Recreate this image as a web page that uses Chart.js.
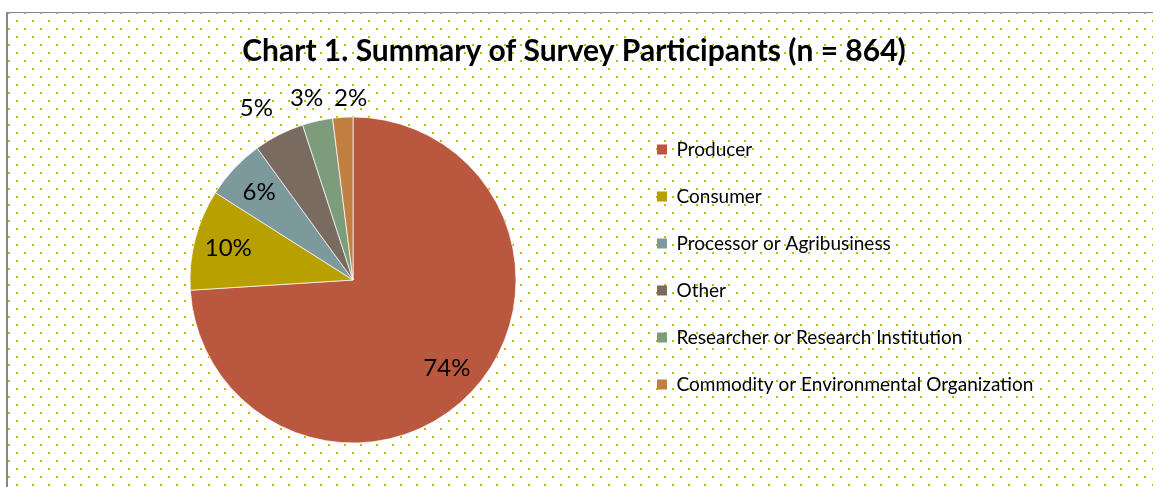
<!DOCTYPE html>
<html>
<head>
<meta charset="utf-8">
<script src="https://cdn.jsdelivr.net/npm/chart.js@4.4.1/dist/chart.umd.min.js"></script>
<style>
html, body { margin: 0; padding: 0; background: #fff; }
</style>
</head>
<body>
<canvas id="c" width="1153" height="487"></canvas>
<script>
const titleText = 'Chart 1. Summary of Survey Participants (n = 864)';
const categories = ['Producer', 'Consumer', 'Processor or Agribusiness', 'Other',
                    'Researcher or Research Institution', 'Commodity or Environmental Organization'];
const percents = [74, 10, 6, 5, 3, 2];
const sliceColors = ['#b9573f', '#b7a000', '#7c999c', '#7a6b60', '#7d9c7b', '#c18042'];

const legendFontSize = 19;
const legendPad = 28;

// dotted paper + grey frame behind everything
const paper = {
  id: 'paper',
  beforeDraw(chart) {
    const ctx = chart.ctx;
    ctx.save();
    ctx.fillStyle = '#fff';
    ctx.fillRect(0, 0, chart.width, chart.height);
    const tile = document.createElement('canvas');
    tile.width = 16; tile.height = 16;
    const t = tile.getContext('2d');
    t.fillStyle = '#c9b400';
    t.fillRect(0, 4, 2, 2);
    t.fillRect(8, 12, 2, 2);
    ctx.fillStyle = ctx.createPattern(tile, 'repeat');
    ctx.fillRect(8, 13, chart.width - 8, chart.height - 13);
    ctx.fillStyle = '#878787';
    ctx.fillRect(6, 12, 2, chart.height - 12);
    ctx.fillRect(6, 12, chart.width - 6, 1);
    ctx.restore();
  }
};

const heading = {
  id: 'heading',
  afterDraw(chart) {
    const ctx = chart.ctx;
    ctx.save();
    ctx.font = 'bold 30px Lato';
    ctx.fillStyle = '#000';
    ctx.textAlign = 'center';
    ctx.textBaseline = 'middle';
    ctx.fillText(titleText, 574, 51);
    ctx.restore();
  }
};

// percentage labels, inside big slices, outside the small ones (pushed apart if they touch)
const sliceLabels = {
  id: 'sliceLabels',
  afterDatasetsDraw(chart) {
    const ctx = chart.ctx;
    const meta = chart.getDatasetMeta(0);
    const total = percents.reduce((a, b) => a + b, 0);
    ctx.save();
    ctx.font = '24px Lato';
    ctx.fillStyle = '#000';
    ctx.textAlign = 'center';
    ctx.textBaseline = 'middle';
    const outside = [];
    meta.data.forEach((arc, i) => {
      const p = arc.getProps(['x', 'y', 'startAngle', 'endAngle', 'outerRadius'], true);
      const mid = (p.startAngle + p.endAngle) / 2;
      const dx = Math.cos(mid), dy = Math.sin(mid);
      const text = Math.round(percents[i] / total * 100) + '%';
      if (percents[i] > 5) {
        const r = p.outerRadius * 0.79;
        ctx.fillText(text, p.x + dx * r, p.y + dy * r);
      } else {
        outside.push({
          text: text,
          w: ctx.measureText(text).width,
          x: p.x + dx * (p.outerRadius + 50),
          y: p.y + dy * (p.outerRadius + 18 + 25 * Math.abs(dx))
        });
      }
    });
    outside.sort((a, b) => a.x - b.x);
    for (let i = 1; i < outside.length; i++) {
      const prev = outside[i - 1], cur = outside[i];
      const minX = prev.x + prev.w / 2 + 11 + cur.w / 2;
      if (cur.x < minX) cur.x = minX;
    }
    outside.forEach(l => ctx.fillText(l.text, l.x, l.y));
    ctx.restore();
  }
};

// legend width as Chart.js computes it, so the legend lands where wanted
const m = document.createElement('canvas').getContext('2d');
m.font = legendFontSize + 'px Lato';
const textW = Math.max(...categories.map(c => m.measureText(c).width));
const legendW = legendPad + 10 + legendFontSize / 2 + textW + 10;
const legendLeft = 657 - legendPad;
const padRight = 1153 - legendLeft - legendW;
const padLeft = 2 * 353 - legendLeft;

new Chart(document.getElementById('c'), {
  type: 'pie',
  data: {
    labels: categories,
    datasets: [{
      data: percents,
      backgroundColor: sliceColors,
      borderColor: 'rgba(255,255,255,0.7)',
      borderWidth: 1,
      radius: 163
    }]
  },
  options: {
    responsive: false,
    animation: false,
    events: [],
    layout: { padding: { top: 112, bottom: 39, left: padLeft, right: padRight } },
    plugins: {
      title: { display: false },
      tooltip: { enabled: false },
      legend: {
        position: 'right',
        align: 'start',
        labels: {
          boxWidth: 10,
          boxHeight: 10,
          padding: legendPad,
          color: '#000',
          font: { family: 'Lato', size: legendFontSize },
          generateLabels(chart) {
            const items = Chart.overrides.pie.plugins.legend.labels.generateLabels(chart);
            items.forEach(it => { it.lineWidth = 0; });
            return items;
          }
        }
      }
    }
  },
  plugins: [paper, sliceLabels, heading]
});
</script>
</body>
</html>
